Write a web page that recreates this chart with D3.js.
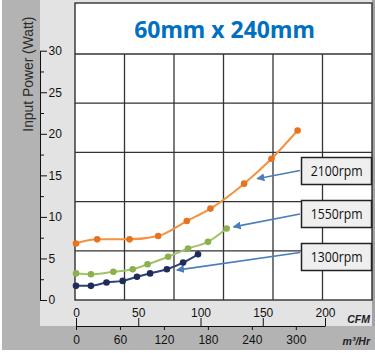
<!DOCTYPE html>
<html lang="en">
	<head>
		<meta charset="utf-8">
		<title> Fan power curves </title>
		<script type="text/javascript" src="https://cdn.jsdelivr.net/npm/d3@7/dist/d3.min.js"></script>
		<style type="text/css">
			body { margin: 0; background: #fff; }
			svg { display: block; }
			.num text { font-family: "Liberation Sans Narrow", "Liberation Sans", Arial, sans-serif; font-size: 12px; fill: #111; }
			.num path, .num line { stroke: #111; }
		</style>
	</head>
	<body>
		<div id="chart"></div>

		<script type="text/javascript">

			// fan curves (CFM vs Watt)
			var speeds = ["2100rpm", "1550rpm", "1300rpm"];
			var cfm2100 = [0, 17, 43, 66, 89, 108, 135, 157, 178];
			var watt2100 = [6.8, 7.3, 7.3, 7.7, 9.5, 11.0, 14.0, 17.0, 20.4];
			var cfm1550 = [0, 12, 30, 45.5, 57.5, 74, 90, 106, 121];
			var watt1550 = [3.2, 3.1, 3.4, 3.7, 4.3, 5.2, 6.2, 7.0, 8.6];
			var cfm1300 = [0, 12, 24.5, 37.5, 49, 59.5, 73, 86, 98];
			var watt1300 = [1.7, 1.7, 2.1, 2.3, 2.8, 3.2, 3.7, 4.5, 5.5];

			// where each label arrow points to
			var arrowCfm = [145.5, 126.5, 81];
			var arrowWatt = [14.6, 8.8, 3.6];

			var yTicks = [0, 5, 10, 15, 20, 25, 30];
			var yMinor = [2.5, 7.5, 12.5, 17.5, 22.5, 27.5];
			var cfmTicks = [0, 50, 100, 150, 200];
			var m3Ticks = [0, 60, 120, 180, 240, 300];
			var M3_PER_CFM = 1.699;

			var w = 375;
			var h = 353;

			var svg = d3.select("#chart")
				.append("svg")
				.attr("width", w)
				.attr("height", h);

			// backgrounds
			svg.append("rect").attr("x", 2).attr("y", 0).attr("width", 373).attr("height", 350).attr("fill", "#b3b3b3");
			svg.append("rect").attr("x", 40).attr("y", 0).attr("width", 335).attr("height", 326).attr("fill", "#e3e3e3");
			svg.append("rect").attr("x", 372).attr("y", 0).attr("width", 3).attr("height", 326).attr("fill", "#a3a3a3");

			// plot box
			var box = { l: 75, r: 372, t: 3, title: 54, b: 300 };
			svg.append("rect")
				.attr("x", box.l).attr("y", box.t)
				.attr("width", box.r - box.l).attr("height", box.b - box.t)
				.attr("fill", "#fff")
				.attr("stroke", "#222")
				.attr("stroke-width", 1.3);

			// grid is its own 6 x 5 lattice, not tied to the axes
			var gx = d3.scaleLinear().domain([0, 6]).range([box.l, box.r]);
			var gy = d3.scaleLinear().domain([0, 5]).range([box.b, box.title]);
			svg.append("g").selectAll("line")
				.data(d3.range(1, 6))
				.enter().append("line")
				.attr("x1", function(d) { return gx(d); })
				.attr("x2", function(d) { return gx(d); })
				.attr("y1", box.title).attr("y2", box.b)
				.attr("stroke", "#333").attr("stroke-width", 1.3);
			svg.append("g").selectAll("line")
				.data(d3.range(1, 6))
				.enter().append("line")
				.attr("x1", box.l).attr("x2", box.r)
				.attr("y1", function(d) { return gy(d); })
				.attr("y2", function(d) { return gy(d); })
				.attr("stroke", "#333").attr("stroke-width", 1.3);

			svg.append("text")
				.attr("x", 224.5).attr("y", 37.5)
				.attr("text-anchor", "middle")
				.attr("font-family", "Noto Sans, sans-serif")
				.attr("font-weight", "bold")
				.attr("font-size", "23px")
				.attr("fill", "#0070c0")
				.text("60mm x 240mm");

			// scales
			var xScale = d3.scaleLinear().domain([0, 200]).range([76, 325]);
			var m3Scale = d3.scaleLinear().domain([0, 200 * M3_PER_CFM]).range([76, 325]);
			var yScale = d3.scaleLinear().domain([0, 30]).range([300, 50.7]);

			// y axis
			var yAxis = d3.axisRight(yScale).tickValues(yTicks).tickSize(7).tickSizeOuter(0).tickPadding(1.5);
			svg.append("g").attr("class", "num")
				.attr("transform", "translate(40,0)")
				.call(yAxis);
			svg.append("g").attr("class", "num")
				.attr("transform", "translate(40,0)")
				.call(d3.axisRight(yScale).tickValues(yMinor).tickSize(4).tickSizeOuter(0).tickFormat(""))
				.select(".domain").remove();

			svg.append("text")
				.attr("transform", "translate(33,74.2) rotate(-90)")
				.attr("text-anchor", "middle")
				.attr("font-family", "Liberation Sans, Arial, sans-serif")
				.attr("font-size", "14px")
				.attr("textLength", 115)
				.attr("lengthAdjust", "spacingAndGlyphs")
				.attr("fill", "#2b2b2b")
				.text("Input Power (Watt)");

			// x axes, CFM above and m3/Hr below the same line
			svg.append("g").attr("class", "num")
				.attr("transform", "translate(0,326)")
				.call(d3.axisTop(xScale).tickValues(cfmTicks).tickSize(8).tickSizeOuter(0).tickPadding(1.5));
			svg.append("g").attr("class", "num")
				.attr("transform", "translate(0,326)")
				.call(d3.axisBottom(m3Scale).tickValues(m3Ticks).tickSize(4).tickSizeOuter(0).tickPadding(5))
				.select(".domain").remove();

			svg.append("text")
				.attr("x", 370).attr("y", 323).attr("text-anchor", "end")
				.attr("font-family", "Liberation Sans, Arial, sans-serif")
				.attr("font-size", "10.5px").attr("font-weight", "bold").attr("font-style", "italic")
				.attr("fill", "#222")
				.text("CFM");
			svg.append("text")
				.attr("x", 370).attr("y", 344.5).attr("text-anchor", "end")
				.attr("font-family", "Liberation Sans, Arial, sans-serif")
				.attr("font-size", "10.5px").attr("font-weight", "bold").attr("font-style", "italic")
				.attr("fill", "#222")
				.text("m³/Hr");

			// curves
			var series = [
				{ name: speeds[0], x: cfm2100, y: watt2100, line: "#f3923f", dot: "#e8731f" },
				{ name: speeds[1], x: cfm1550, y: watt1550, line: "#a3c266", dot: "#8bb050" },
				{ name: speeds[2], x: cfm1300, y: watt1300, line: "#2f4275", dot: "#1f2c5a" }
			];

			var line = d3.line()
				.x(function(d) { return xScale(d[0]); })
				.y(function(d) { return yScale(d[1]); })
				.curve(d3.curveMonotoneX);

			series.forEach(function(s) {
				var pts = d3.zip(s.x, s.y);
				svg.append("path")
					.datum(pts)
					.attr("d", line)
					.attr("fill", "none")
					.attr("stroke", s.line)
					.attr("stroke-width", 2);
				svg.append("g").selectAll("circle")
					.data(pts)
					.enter().append("circle")
					.attr("cx", function(d) { return xScale(d[0]); })
					.attr("cy", function(d) { return yScale(d[1]); })
					.attr("r", 3.3)
					.attr("fill", s.dot);
			});

			// labels with arrows
			svg.append("defs").append("marker")
				.attr("id", "head")
				.attr("viewBox", "0 0 10 10")
				.attr("refX", 9).attr("refY", 5)
				.attr("markerWidth", 5).attr("markerHeight", 5)
				.attr("orient", "auto")
				.append("path")
				.attr("d", "M0,0L10,5L0,10z")
				.attr("fill", "#4a7ebb");

			var boxTop = [157.5, 200.5, 243.5];
			var tailY = [170.5, 214, 252.5];
			speeds.forEach(function(name, i) {
				svg.append("line")
					.attr("x1", 300).attr("y1", tailY[i])
					.attr("x2", xScale(arrowCfm[i])).attr("y2", yScale(arrowWatt[i]))
					.attr("stroke", "#4a7ebb")
					.attr("stroke-width", 1.6)
					.attr("marker-end", "url(#head)");
				svg.append("rect")
					.attr("x", 301.5).attr("y", boxTop[i])
					.attr("width", 70).attr("height", 27)
					.attr("fill", "#efefef")
					.attr("stroke", "#222")
					.attr("stroke-width", 1.5);
				svg.append("text")
					.attr("x", 336.7).attr("y", boxTop[i] + 18.7)
					.attr("text-anchor", "middle")
					.attr("font-family", "Open Sans, sans-serif")
					.attr("font-size", "14px")
					.attr("textLength", 52)
					.attr("lengthAdjust", "spacingAndGlyphs")
					.attr("fill", "#111")
					.text(name);
			});

		</script>
	</body>
</html>
